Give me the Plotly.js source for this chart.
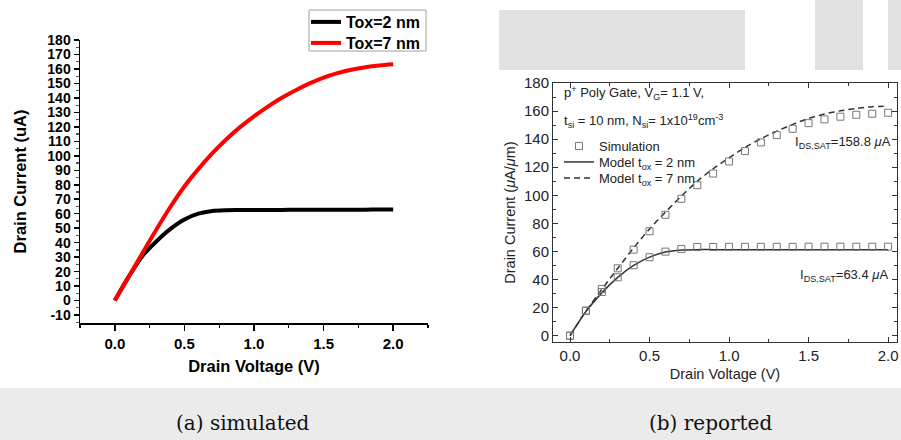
<!DOCTYPE html>
<html>
<head>
<meta charset="utf-8">
<script src="https://cdn.plot.ly/plotly-3.0.1.min.js"></script>
<style>html,body{margin:0;padding:0;background:#fff;}#chart{width:901px;height:440px;}</style>
</head>
<body>
<div id="chart"></div>
<script>
// ---------- data ----------
const drainVoltage = [0,0.1,0.2,0.3,0.4,0.5,0.6,0.7,0.8,0.9,1.0,1.1,1.2,1.3,1.4,1.5,1.6,1.7,1.8,1.9,2.0];

// (a) simulated
const simTox2 = [0,16.5,31,41,49.5,56,60,61.9,62.4,62.5,62.6,62.6,62.6,62.7,62.7,62.7,62.8,62.8,62.8,62.9,62.9];
const simTox7 = [0,16.5,33,49.3,64.8,78.8,90.8,101.6,111.3,119.8,127.3,134.0,140.1,145.3,150.0,154.0,157.1,159.5,161.2,162.4,163.2];

// (b) reported
const repSim2 = [0,17.8,31.1,41.6,50.2,55.9,59.9,61.8,63.2,63.2,63.3,63.3,63.3,63.3,63.3,63.4,63.4,63.4,63.4,63.4,63.4];
const repSim7 = [0,17.8,33.3,48.0,61.3,74.4,86.1,97.5,107.2,115.5,124.1,131.5,137.7,142.9,147.4,151.4,154.1,156.0,157.4,158.1,158.8];
const repModel2 = [0,17.2,30.5,41.5,50,56,59.6,61,61.3,61.3,61.3,61.3,61.3,61.3,61.3,61.3,61.3,61.3,61.3,61.3,61.3];
const repModel7 = [0,17.5,33,48,62.5,76,88,99.4,110,118.9,126.7,134,140.3,145.7,150.5,154.8,157.9,160.2,161.9,163.1,163.6];

// ticks
const xTickVals = [0,0.5,1.0,1.5,2.0];
const leftYTickVals = [-10,0,10,20,30,40,50,60,70,80,90,100,110,120,130,140,150,160,170,180];
const rightYTickVals = [0,20,40,60,80,100,120,140,160,180];

// ---------- helpers ----------
const W = 901, H = 440;
const px = v => v / W;
const py = v => 1 - v / H;
const SANS = 'Liberation Sans, Arial, sans-serif';
const boldFont = (s) => ({family: SANS, size: s, color: '#000', weight: 'bold'});
const regFont = (s) => ({family: SANS, size: s, color: '#222'});

const traces = [
  {x: drainVoltage, y: simTox2, type: 'scatter', mode: 'lines', name: 'Tox=2 nm',
   line: {color: '#000', width: 4, shape: 'spline', smoothing: 0.8}, xaxis: 'x', yaxis: 'y', legend: 'legend'},
  {x: drainVoltage, y: simTox7, type: 'scatter', mode: 'lines', name: 'Tox=7 nm',
   line: {color: '#ff0000', width: 4, shape: 'spline', smoothing: 0.8}, xaxis: 'x', yaxis: 'y', legend: 'legend5'},

  {x: drainVoltage, y: repModel2, type: 'scatter', mode: 'lines', name: 'Model t<sub>ox</sub> = 2 nm',
   line: {color: '#333', width: 1.5, shape: 'spline', smoothing: 0.8}, xaxis: 'x2', yaxis: 'y2', legend: 'legend3'},
  {x: drainVoltage, y: repModel7, type: 'scatter', mode: 'lines', name: 'Model t<sub>ox</sub> = 7 nm',
   line: {color: '#333', width: 1.5, dash: '6px,4px', shape: 'spline', smoothing: 0.8}, xaxis: 'x2', yaxis: 'y2', legend: 'legend4'},
  {x: drainVoltage, y: repSim2, type: 'scatter', mode: 'markers', name: 'Simulation',
   marker: {symbol: 'square-open', size: 7, color: '#777', line: {width: 1}}, xaxis: 'x2', yaxis: 'y2', legend: 'legend2'},
  {x: drainVoltage, y: repSim7, type: 'scatter', mode: 'markers', name: 'Simulation', showlegend: false,
   marker: {symbol: 'square-open', size: 7, color: '#777', line: {width: 1}}, xaxis: 'x2', yaxis: 'y2'}
];

const plainLegend = (xp, yp, font) => ({x: px(xp), y: py(yp), xanchor: 'left', yanchor: 'top',
  bgcolor: 'rgba(0,0,0,0)', borderwidth: 0, font: font, itemwidth: 30});

const layout = {
  width: W, height: H,
  margin: {l: 0, r: 0, t: 0, b: 0},
  paper_bgcolor: '#fff', plot_bgcolor: 'rgba(0,0,0,0)',
  showlegend: true,
  xaxis: {
    domain: [px(80), px(428)], range: [-0.25, 2.25], anchor: 'y',
    tickmode: 'array', tickvals: xTickVals, ticktext: xTickVals.map(v => v.toFixed(1)),
    ticks: 'outside', ticklen: 6, tickwidth: 1.5, tickcolor: '#000',
    minor: {ticks: 'outside', ticklen: 3, tickwidth: 1.2, tickcolor: '#000', tickmode: 'linear', tick0: -0.25, dtick: 0.25},
    showline: true, linecolor: '#000', linewidth: 1.5, showgrid: false, zeroline: false,
    tickfont: boldFont(15),
    title: {text: 'Drain Voltage (V)', font: boldFont(16.5), standoff: 10}
  },
  yaxis: {
    domain: [py(323), py(40)], range: [-15.5, 180], anchor: 'x',
    tickmode: 'array', tickvals: leftYTickVals, ticktext: leftYTickVals.map(v => String(v)),
    ticks: 'outside', ticklen: 5, tickwidth: 1.5, tickcolor: '#000',
    minor: {ticks: 'outside', ticklen: 3, tickwidth: 1.2, tickcolor: '#555', tickmode: 'linear', tick0: 0, dtick: 5},
    showline: true, linecolor: '#000', linewidth: 1.5, showgrid: false, zeroline: false,
    tickfont: boldFont(14),
    title: {text: 'Drain Current (uA)', font: boldFont(16.5), standoff: 16}
  },
  xaxis2: {
    domain: [px(553), px(897)], range: [-0.107, 2.056], anchor: 'y2',
    tickmode: 'array', tickvals: xTickVals, ticktext: xTickVals.map(v => v.toFixed(1)),
    ticks: 'inside', ticklen: 5, tickwidth: 1, tickcolor: '#333',
    minor: {ticks: 'inside', ticklen: 3, tickwidth: 1, tickcolor: '#333', tickmode: 'linear', tick0: 0, dtick: 0.25},
    showline: true, mirror: 'ticks', linecolor: '#333', linewidth: 1, showgrid: false, zeroline: false,
    tickfont: regFont(15),
    title: {text: 'Drain Voltage (V)', font: regFont(14.5), standoff: 5}
  },
  yaxis2: {
    domain: [py(342), py(83)], range: [-4.5, 180], anchor: 'x2',
    tickmode: 'array', tickvals: rightYTickVals, ticktext: rightYTickVals.map(v => String(v)),
    ticks: 'inside', ticklen: 5, tickwidth: 1, tickcolor: '#333',
    minor: {ticks: 'inside', ticklen: 3, tickwidth: 1, tickcolor: '#333', tickmode: 'linear', tick0: 0, dtick: 10},
    showline: true, mirror: 'ticks', linecolor: '#333', linewidth: 1, showgrid: false, zeroline: false,
    tickfont: regFont(15),
    title: {text: 'Drain Current (<i>μ</i>A/<i>μ</i>m)', font: regFont(14.5), standoff: 4}
  },
  legend: plainLegend(306, 5, boldFont(16)),
  legend5: plainLegend(306, 26, boldFont(16)),
  legend2: plainLegend(559, 131, regFont(13)),
  legend3: plainLegend(559, 147, regFont(13)),
  legend4: plainLegend(559, 163, regFont(13)),
  shapes: [
    {type: 'rect', xref: 'paper', yref: 'paper', x0: px(499), x1: px(745), y0: py(70), y1: py(10), fillcolor: '#e1e1e1', line: {width: 0}, layer: 'below'},
    {type: 'rect', xref: 'paper', yref: 'paper', x0: px(815), x1: px(863), y0: py(70), y1: py(0), fillcolor: '#e1e1e1', line: {width: 0}, layer: 'below'},
    {type: 'rect', xref: 'paper', yref: 'paper', x0: px(888), x1: px(901), y0: py(70), y1: py(0), fillcolor: '#e1e1e1', line: {width: 0}, layer: 'below'},
    {type: 'rect', xref: 'paper', yref: 'paper', x0: 0, x1: 1, y0: 0, y1: py(388), fillcolor: '#ebebeb', line: {width: 0}, layer: 'below'},
    // legend frame of panel (a)
    {type: 'rect', xref: 'paper', yref: 'paper', x0: px(309), x1: px(426), y0: py(51), y1: py(10), fillcolor: '#fff', line: {width: 1, color: '#a0a0a0'}, layer: 'below'}
  ],
  annotations: [
    {text: 'p<sup>+</sup> Poly Gate, V<sub>G</sub>= 1.1 V,', xref: 'paper', yref: 'paper', x: px(562), y: py(93), xanchor: 'left', yanchor: 'middle', showarrow: false, font: regFont(13)},
    {text: 't<sub>si</sub> = 10 nm, N<sub>si</sub>= 1x10<sup>19</sup>cm<sup>-3</sup>', xref: 'paper', yref: 'paper', x: px(562), y: py(121), xanchor: 'left', yanchor: 'middle', showarrow: false, font: regFont(13)},
    {text: 'I<sub>DS,SAT</sub>=158.8 <i>μ</i>A', xref: 'paper', yref: 'paper', x: px(793), y: py(142), xanchor: 'left', yanchor: 'middle', showarrow: false, font: regFont(13)},
    {text: 'I<sub>DS,SAT</sub>=63.4 <i>μ</i>A', xref: 'paper', yref: 'paper', x: px(798), y: py(275), xanchor: 'left', yanchor: 'middle', showarrow: false, font: regFont(13)},
    {text: '(a) simulated', xref: 'paper', yref: 'paper', x: px(243), y: py(423), xanchor: 'center', yanchor: 'middle', showarrow: false, font: {family: 'DejaVu Serif, serif', size: 20, color: '#111'}},
    {text: '(b) reported', xref: 'paper', yref: 'paper', x: px(710), y: py(423), xanchor: 'center', yanchor: 'middle', showarrow: false, font: {family: 'DejaVu Serif, serif', size: 20, color: '#111'}}
  ]
};

Plotly.newPlot('chart', traces, layout, {displayModeBar: false, staticPlot: true});
</script>
</body>
</html>
